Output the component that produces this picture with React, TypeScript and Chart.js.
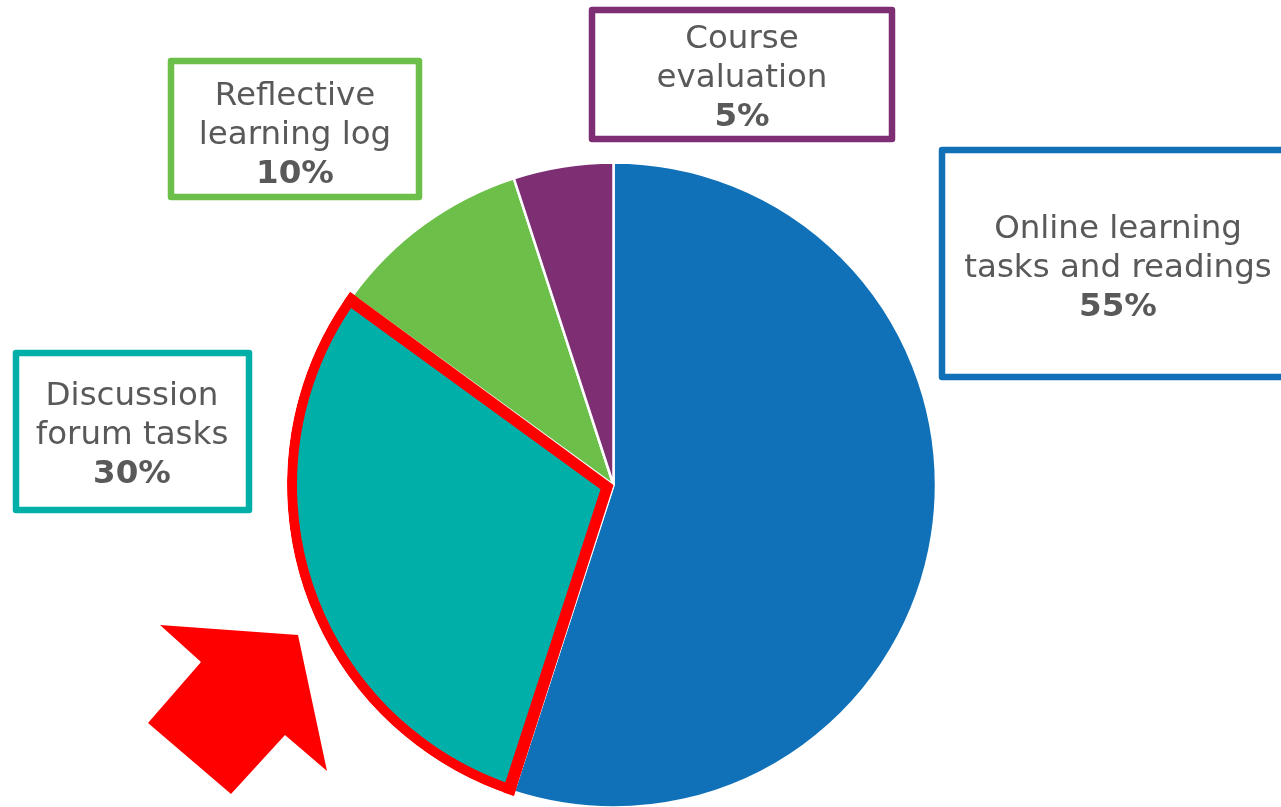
import React, { useEffect, useRef } from "react";
import { Chart, registerables } from "chart.js";

Chart.register(...registerables);

// ---- data ----
const categories = [
  "Online learning tasks and readings",
  "Discussion forum tasks",
  "Reflective learning log",
  "Course evaluation",
];
const values = [55, 30, 10, 5];
const labelLines = [
  ["Online learning", "tasks and readings"],
  ["Discussion", "forum tasks"],
  ["Reflective", "learning log"],
  ["Course", "evaluation"],
];
const sliceColors = ["#1071b8", "#00b0a8", "#6cc04a", "#7e2f74"];
const highlightedIndex = 1;

// ---- layout (positions / styles) ----
const W = 1281;
const H = 807;
const boxes = [
  { x0: 939, y0: 147, x1: 1292, y1: 380, cx: 1118, base: 238 },
  { x0: 13, y0: 350, x1: 252, y1: 513, cx: 132, base: 405 },
  { x0: 168, y0: 58, x1: 422, y1: 200, cx: 295, base: 105 },
  { x0: 589, y0: 7, x1: 895, y1: 142, cx: 742, base: 48 },
];
const lineGap = 39;
const textColor = "#595959";
const fontFamily = "'DejaVu Sans', Verdana, sans-serif";
const fontSize = 32.5;
const arrowPoly = [
  [160, 625],
  [298, 635],
  [327, 771],
  [285, 735],
  [231, 794],
  [148, 723],
  [201, 662],
];

const decorPlugin = {
  id: "decor",
  afterDatasetsDraw(chart: any) {
    const ctx = chart.ctx;
    const arc = chart.getDatasetMeta(0).data[highlightedIndex];
    if (!arc) return;
    const { x, y, startAngle, endAngle, outerRadius } = arc.getProps(
      ["x", "y", "startAngle", "endAngle", "outerRadius"],
      true
    );
    ctx.save();
    const pad = 0.004;
    ctx.beginPath();
    ctx.moveTo(x, y);
    ctx.arc(x, y, outerRadius + 4, startAngle - pad, endAngle + pad);
    ctx.closePath();
    ctx.clip();
    ctx.strokeStyle = "#ff0000";
    ctx.lineJoin = "round";
    ctx.lineCap = "round";
    ctx.lineWidth = 22;
    ctx.beginPath();
    ctx.moveTo(x + Math.cos(startAngle) * (outerRadius - 1), y + Math.sin(startAngle) * (outerRadius - 1));
    ctx.lineTo(x, y);
    ctx.lineTo(x + Math.cos(endAngle) * (outerRadius - 1), y + Math.sin(endAngle) * (outerRadius - 1));
    ctx.stroke();
    ctx.lineWidth = 10;
    ctx.beginPath();
    ctx.arc(x, y, outerRadius - 1, startAngle, endAngle);
    ctx.stroke();
    ctx.restore();
  },
  afterDraw(chart: any) {
    const ctx = chart.ctx;
    ctx.save();
    boxes.forEach((b, i) => {
      ctx.lineWidth = 6.5;
      ctx.strokeStyle = sliceColors[i];
      ctx.lineJoin = "round";
      ctx.strokeRect(b.x0 + 3, b.y0 + 3, b.x1 - b.x0 - 6, b.y1 - b.y0 - 6);
      ctx.fillStyle = textColor;
      ctx.textAlign = "center";
      ctx.textBaseline = "alphabetic";
      ctx.font = `${fontSize}px ${fontFamily}`;
      labelLines[i].forEach((ln, k) => {
        ctx.fillText(ln, b.cx, b.base + k * lineGap);
      });
      ctx.font = `bold ${fontSize}px ${fontFamily}`;
      ctx.fillText(values[i] + "%", b.cx, b.base + labelLines[i].length * lineGap);
    });
    ctx.beginPath();
    arrowPoly.forEach(([px, py], k) => (k === 0 ? ctx.moveTo(px, py) : ctx.lineTo(px, py)));
    ctx.closePath();
    ctx.fillStyle = "#ff0000";
    ctx.fill();
    ctx.restore();
  },
};

export default function App() {
  const ref = useRef<HTMLCanvasElement | null>(null);
  useEffect(() => {
    document.body.style.margin = "0";
    if (!ref.current) return;
    const chart = new Chart(ref.current, {
      type: "pie",
      data: {
        labels: categories,
        datasets: [
          {
            data: values,
            backgroundColor: sliceColors,
            borderColor: "#ffffff",
            borderWidth: 2.5,
          },
        ],
      },
      options: {
        responsive: false,
        animation: false,
        radius: 322.5,
        layout: { padding: { left: 291, right: 345, top: 163, bottom: 0 } },
        plugins: {
          legend: { display: false },
          tooltip: { enabled: false },
        },
      } as any,
      plugins: [decorPlugin],
    });
    return () => chart.destroy();
  }, []);
  return (
    <div style={{ position: "absolute", left: 0, top: 0, width: W, height: H, background: "#fff" }}>
      <canvas ref={ref} width={W} height={H} style={{ display: "block" }} />
    </div>
  );
}
